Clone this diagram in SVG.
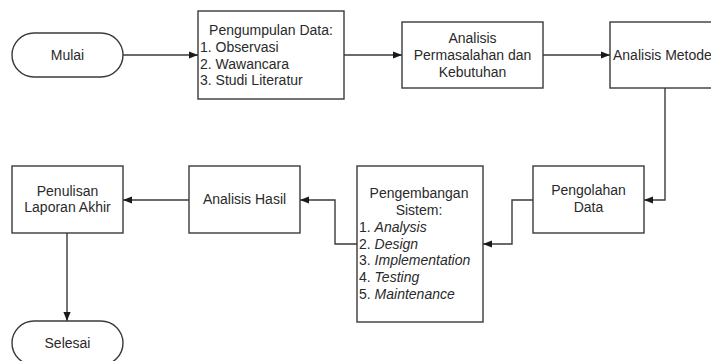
<svg xmlns="http://www.w3.org/2000/svg" width="711" height="361" viewBox="0 0 711 361">
  <style>
    .box { fill: #ffffff; stroke: #3a3a3a; stroke-width: 1.4; }
    .line { fill: none; stroke: #3a3a3a; stroke-width: 1.4; }
    text { font-family: "Liberation Sans", Arial, sans-serif; font-size: 14px; fill: #2a2a2a; }
    .c { text-anchor: middle; }
    .i { font-style: italic; }
  </style>
  <defs>
    <marker id="arrow" viewBox="0 0 10 10" refX="10" refY="5" markerWidth="9" markerHeight="9" markerUnits="userSpaceOnUse" orient="auto">
      <path d="M0,1 L10,5 L0,9 Z" fill="#1a1a1a"/>
    </marker>
  </defs>
  <rect width="711" height="361" fill="#ffffff"/>

  <g id="connectors">
    <path class="line" d="M123,55 H198" marker-end="url(#arrow)"/>
    <path class="line" d="M344,55 H402" marker-end="url(#arrow)"/>
    <path class="line" d="M543,55 H610" marker-end="url(#arrow)"/>
    <path class="line" d="M665,88 V200 H644" marker-end="url(#arrow)"/>
    <path class="line" d="M533,200 H512 V244 H483" marker-end="url(#arrow)"/>
    <path class="line" d="M357,244 H335 V200 H300" marker-end="url(#arrow)"/>
    <path class="line" d="M189,200 H123" marker-end="url(#arrow)"/>
    <path class="line" d="M67,233 V321" marker-end="url(#arrow)"/>
  </g>

  <g id="mulai">
    <rect class="box" x="12" y="33" width="111" height="44" rx="22" ry="22"/>
    <text class="c" x="67.5" y="60">Mulai</text>
  </g>

  <g id="pengumpulan-data">
    <rect class="box" x="198" y="11" width="146" height="88"/>
    <text class="c" x="271" y="35">Pengumpulan Data:</text>
    <text x="200" y="52">1. Observasi</text>
    <text x="200" y="69">2. Wawancara</text>
    <text x="200" y="85">3. Studi Literatur</text>
  </g>

  <g id="analisis-permasalahan">
    <rect class="box" x="402" y="22" width="141" height="66"/>
    <text class="c" x="472.5" y="43">Analisis</text>
    <text class="c" x="472.5" y="60">Permasalahan dan</text>
    <text class="c" x="472.5" y="77">Kebutuhan</text>
  </g>

  <g id="analisis-metode">
    <rect class="box" x="610" y="22" width="120" height="66"/>
    <text x="613" y="60">Analisis Metode</text>
  </g>

  <g id="pengolahan-data">
    <rect class="box" x="533" y="166" width="111" height="67"/>
    <text class="c" x="588.5" y="195">Pengolahan</text>
    <text class="c" x="588.5" y="212">Data</text>
  </g>

  <g id="pengembangan-sistem">
    <rect class="box" x="357" y="166" width="126" height="156"/>
    <text class="c" x="419" y="198">Pengembangan</text>
    <text class="c" x="419" y="215">Sistem:</text>
    <text x="359" y="232">1. <tspan class="i">Analysis</tspan></text>
    <text x="359" y="249">2. <tspan class="i">Design</tspan></text>
    <text x="359" y="265">3. <tspan class="i">Implementation</tspan></text>
    <text x="359" y="282">4. <tspan class="i">Testing</tspan></text>
    <text x="359" y="299">5. <tspan class="i">Maintenance</tspan></text>
  </g>

  <g id="analisis-hasil">
    <rect class="box" x="189" y="166" width="111" height="67"/>
    <text class="c" x="244.5" y="204">Analisis Hasil</text>
  </g>

  <g id="penulisan-laporan">
    <rect class="box" x="12" y="166" width="111" height="67"/>
    <text class="c" x="67.5" y="196">Penulisan</text>
    <text class="c" x="67.5" y="212">Laporan Akhir</text>
  </g>

  <g id="selesai">
    <rect class="box" x="12" y="321" width="111" height="44" rx="22" ry="22"/>
    <text class="c" x="67.5" y="348">Selesai</text>
  </g>
</svg>
